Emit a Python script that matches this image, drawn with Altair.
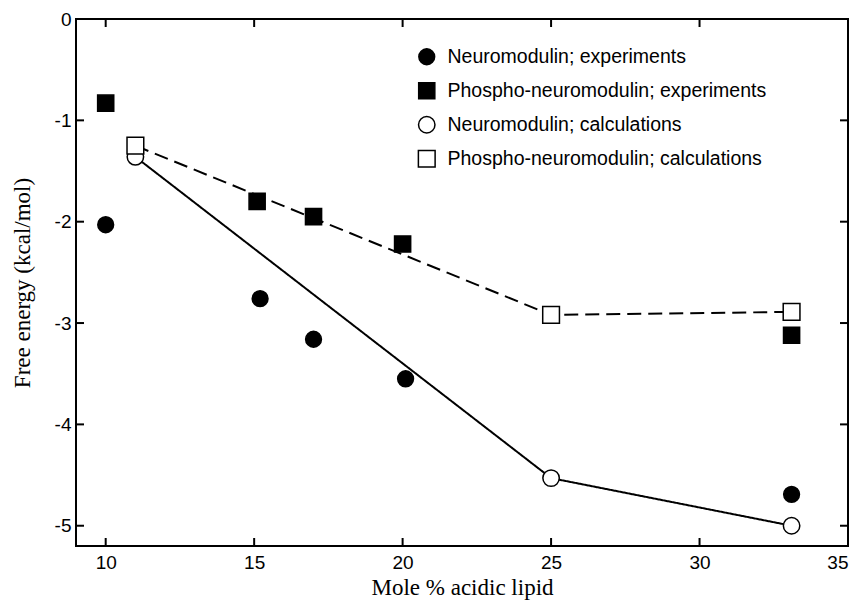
import altair as alt
import pandas as pd

# ---- data ----
nm_exp_x = [10, 15.2, 17.0, 20.1, 33.1]
nm_exp_y = [-2.03, -2.76, -3.16, -3.55, -4.69]
pn_exp_x = [10, 15.1, 17.0, 20.0, 33.1]
pn_exp_y = [-0.83, -1.80, -1.95, -2.22, -3.12]
nm_calc_x = [11, 25, 33.1]
nm_calc_y = [-1.36, -4.53, -5.0]
pn_calc_x = [11, 25, 33.1]
pn_calc_y = [-1.25, -2.92, -2.89]

series_names = [
    "Neuromodulin; experiments",
    "Phospho-neuromodulin; experiments",
    "Neuromodulin; calculations",
    "Phospho-neuromodulin; calculations",
]
x_ticks = [10, 15, 20, 25, 30, 35]
y_ticks = [0, -1, -2, -3, -4, -5]

rows = []
for name, xs, ys in zip(series_names,
                        [nm_exp_x, pn_exp_x, nm_calc_x, pn_calc_x],
                        [nm_exp_y, pn_exp_y, nm_calc_y, pn_calc_y]):
    for x, y in zip(xs, ys):
        rows.append({"series": name, "x": x, "y": y})
df = pd.DataFrame(rows)
df_calc = df[df["series"].isin(series_names[2:])]

W, H = 772, 527
TICK = 8

xscale = alt.Scale(domain=[9, 35], nice=False, zero=False)
yscale = alt.Scale(domain=[-5.2, 0], nice=False, zero=False)

x_enc = alt.X("x:Q", scale=xscale,
              axis=alt.Axis(values=x_ticks, title="Mole % acidic lipid",
                            tickSize=0, labelPadding=7, domain=False, grid=False,
                            labelFont="Liberation Sans", labelFontSize=19,
                            labelColor="black",
                            titleFont="Liberation Serif", titleFontSize=23,
                            titleFontWeight="normal", titleColor="black",
                            titlePadding=4))
y_enc = alt.Y("y:Q", scale=yscale,
              axis=alt.Axis(values=y_ticks, title="Free energy (kcal/mol)",
                            tickSize=0, labelPadding=5, domain=False, grid=False,
                            labelExpr="toString(datum.value)",
                            labelFont="Liberation Sans", labelFontSize=19,
                            labelColor="black",
                            titleFont="Liberation Serif", titleFontSize=23,
                            titleFontWeight="normal", titleColor="black",
                            titlePadding=20))

lines = alt.Chart(df_calc).mark_line(color="black", strokeWidth=2).encode(
    x=x_enc, y=y_enc,
    strokeDash=alt.StrokeDash("series:N",
                              scale=alt.Scale(domain=series_names[2:],
                                              range=[[1, 0], [14, 7]]),
                              legend=None),
    detail="series:N",
)

leg = alt.Legend(title=None, orient="none", legendX=341, legendY=28,
                 labelFont="Liberation Sans", labelFontSize=19.5,
                 labelColor="black", labelOffset=11,
                 rowPadding=11, padding=0,
                 symbolStrokeWidth=1.5, labelLimit=500)

points = alt.Chart(df).mark_point(filled=True, strokeWidth=1.5,
                                  opacity=1).encode(
    x="x:Q", y="y:Q",
    shape=alt.Shape("series:N",
                    scale=alt.Scale(domain=series_names,
                                    range=["circle", "square", "circle", "square"]),
                    legend=leg),
    fill=alt.Fill("series:N",
                  scale=alt.Scale(domain=series_names,
                                  range=["black", "black", "white", "white"]),
                  legend=leg),
    stroke=alt.Stroke("series:N",
                      scale=alt.Scale(domain=series_names,
                                      range=["black", "black", "black", "black"]),
                      legend=leg),
    size=alt.Size("series:N",
                  scale=alt.Scale(domain=series_names, range=[250, 280, 250, 290]),
                  legend=leg),
    order=alt.Order("series:N"),
)

xt = pd.DataFrame({"t": x_ticks})
yt = pd.DataFrame({"t": y_ticks})
tick_style = dict(color="black", strokeWidth=2)
xt_bottom = alt.Chart(xt).mark_rule(**tick_style).encode(
    x=alt.X("t:Q", scale=xscale), y=alt.value(H), y2=alt.value(H - TICK))
xt_top = alt.Chart(xt).mark_rule(**tick_style).encode(
    x=alt.X("t:Q", scale=xscale), y=alt.value(0), y2=alt.value(TICK))
yt_left = alt.Chart(yt).mark_rule(**tick_style).encode(
    y=alt.Y("t:Q", scale=yscale), x=alt.value(0), x2=alt.value(TICK))
yt_right = alt.Chart(yt).mark_rule(**tick_style).encode(
    y=alt.Y("t:Q", scale=yscale), x=alt.value(W), x2=alt.value(W - TICK))

chart = alt.layer(
    lines, xt_bottom, xt_top, yt_left, yt_right, points
).resolve_scale(
    strokeDash="independent"
).properties(
    width=W, height=H,
    autosize=alt.AutoSizeParams(type="none"),
    padding={"left": 68, "top": 11, "right": 8, "bottom": 56},
    background="white",
).configure_view(
    stroke="black", strokeWidth=2
)

chart.save("out.html", embed_options={"renderer": "svg", "actions": False})
